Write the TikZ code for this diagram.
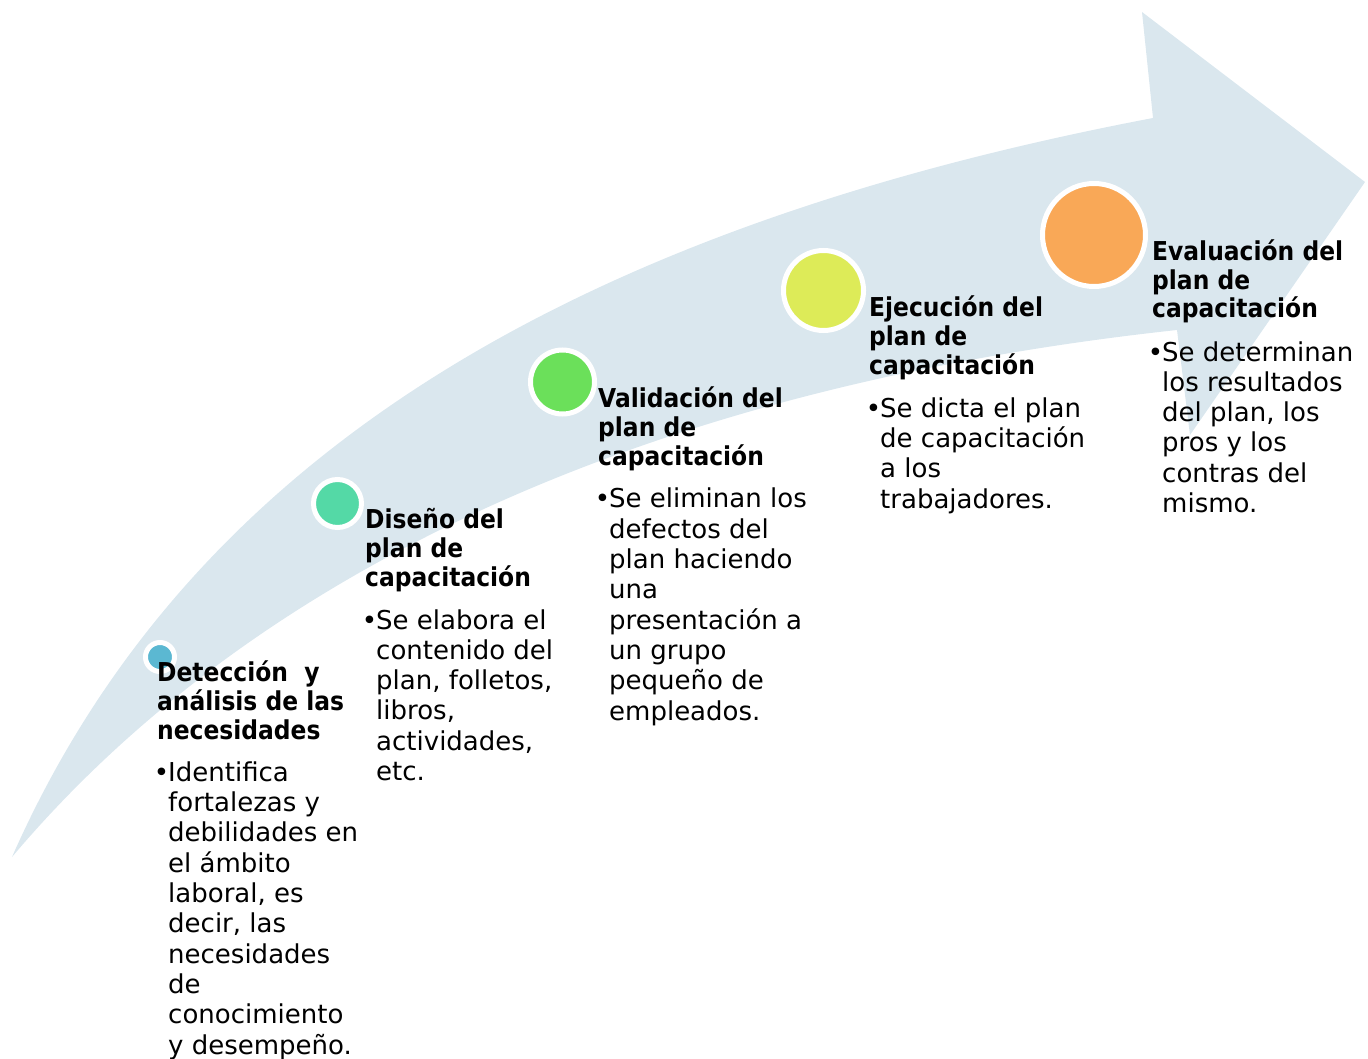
\documentclass[tikz,border=0pt]{standalone}
\usepackage{fontspec}
\setmainfont{DejaVu Sans}
\newfontfamily\ttlfont{DejaVu Sans}[FakeStretch=0.9]
\definecolor{arrowfill}{HTML}{DAE7EE}
\definecolor{cA}{HTML}{5BB8D2}
\definecolor{cB}{HTML}{54D9A6}
\definecolor{cC}{HTML}{6BE05A}
\definecolor{cD}{HTML}{DDEB58}
\definecolor{cE}{HTML}{F9A857}
\tikzset{
  dot/.style={circle, draw=white, line width=5pt, inner sep=0pt},
  ttl/.style={anchor=base west, align=left, inner sep=0pt, font={\fontsize{26}{29}\ttlfont\bfseries}},
  txt/.style={anchor=base west, align=left, inner sep=0pt, font={\fontsize{26}{30.3}\selectfont}}
}
\newcommand{\bul}{\llap{\textbullet\kern-1pt}}
\begin{document}
\begin{tikzpicture}[x=1pt,y=-1pt]
\useasboundingbox (0,0) rectangle (1368,1059);
\fill[arrowfill] (12,857) .. controls (185,465) and (559,231) .. (1153,118)
  -- (1142,12) -- (1365,182) -- (1190,435) -- (1177,330)
  .. controls (641,388) and (250,575) .. (12,857) -- cycle;
\node[dot, fill=cA, minimum size=29pt] (d1) at (160,657) {};
\node[dot, fill=cB, minimum size=48pt] (d2) at (337.5,503.5) {};
\node[dot, fill=cC, minimum size=64pt] (d3) at (562.5,382) {};
\node[dot, fill=cD, minimum size=80pt] (d4) at (823.5,290.5) {};
\node[dot, fill=cE, minimum size=103pt] (d5) at (1094,235) {};

% anchors are at the baseline of the last line
\node[ttl] (t1) at (157,739) {Detección~ y\\análisis de las\\necesidades};
\node[ttl] (t2) at (365,586) {Diseño del\\plan de\\capacitación};
\node[ttl] (t3) at (598,465) {Validación del\\plan de\\capacitación};
\node[ttl] (t4) at (869,374) {Ejecución del\\plan de\\capacitación};
\node[ttl] (t5) at (1152,318) {Evaluación del\\plan de\\capacitación};

\node[txt] (b1) at (168,1054) {\bul Identifica\\fortalezas y\\debilidades en\\el ámbito\\laboral, es\\decir, las\\necesidades\\de\\conocimiento\\y desempeño.};
\node[txt] (b2) at (376,780.5) {\bul Se elabora el\\contenido del\\plan, folletos,\\libros,\\actividades,\\etc.};
\node[txt] (b3) at (609,720) {\bul Se eliminan los\\defectos del\\plan haciendo\\una\\presentación a\\un grupo\\pequeño de\\empleados.};
\node[txt] (b4) at (880,508) {\bul Se dicta el plan\\de capacitación\\a los\\trabajadores.};
\node[txt] (b5) at (1162,512.5) {\bul Se determinan\\los resultados\\del plan, los\\pros y los\\contras del\\mismo.};
\end{tikzpicture}
\end{document}
